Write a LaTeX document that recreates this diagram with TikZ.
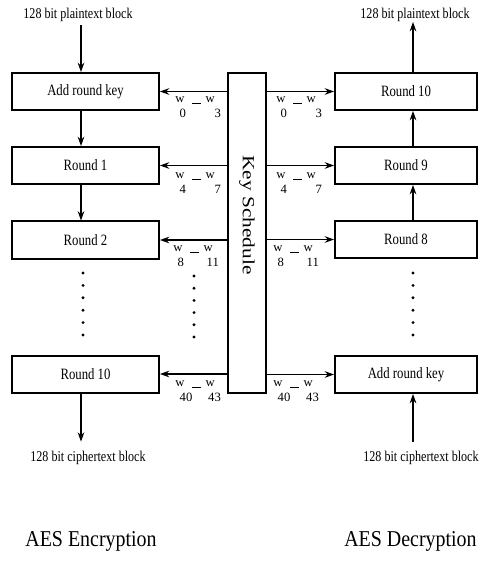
\documentclass[tikz,border=0pt]{standalone}
\usepackage{fontspec}
\setmainfont{Liberation Serif}
\usetikzlibrary{arrows.meta}
\newcommand\sqz[1]{\scalebox{0.81}[1]{#1}}
\newcommand\wl[2]{\makebox[2.5em][l]{%
 \rlap{w}\rlap{\hspace{0.35em}\raisebox{-1.2em}{#1}}%
 \hspace{1.35em}\rlap{\rule[-0.3ex]{0.7em}{0.6pt}}%
 \hspace{1.05em}\rlap{w}\rlap{\makebox[1.2em][r]{\raisebox{-1.2em}{#2}}}}}
\begin{document}
\begin{tikzpicture}[x=0.75pt,y=-0.75pt,
  rbox/.style={draw,line width=1.5pt,minimum height=27.75pt,inner sep=0pt,
    font=\fontsize{11.8}{12}\selectfont},
  lbox/.style={rbox,minimum width=110.25pt},
  dbox/.style={rbox,minimum width=106.5pt},
  small/.style={inner sep=0pt,font=\fontsize{11.2}{12}\selectfont},
  wlab/.style={inner sep=0pt,anchor=north west,font=\fontsize{9.5}{10}\selectfont},
  title/.style={inner sep=0pt,font=\fontsize{17}{18}\selectfont},
  arr/.style={line width=0.8pt,-{Stealth[length=7pt,width=5pt]}},
  dot/.style={fill,circle,inner sep=0pt,minimum size=2.4pt}]
\useasboundingbox (0,0) rectangle (480,566);
% encryption column
\coordinate (ax) at (81,0);
\coordinate (bx) at (413,0);
\node[small] (ptl) at (78,15) {\sqz{128 bit plaintext block}};
\node[lbox] (e0) at (85.5,91.5) {\sqz{Add round key}};
\node[lbox] (e1) at (85.5,165.5) {\sqz{Round 1}};
\node[lbox] (e2) at (85.5,240) {\sqz{Round 2}};
\node[lbox] (e10) at (85.5,374) {\sqz{Round 10}};
\node[small] (ctl) at (88,458) {\sqz{128 bit ciphertext block}};
% key schedule
\node[draw,line width=1.5pt,minimum width=28.5pt,minimum height=240pt,inner sep=0pt] (ks) at (247,233) {};
\node[rotate=-90,inner sep=0pt,font=\fontsize{16}{16}\selectfont] (kst) at (247,215) {\scalebox{1}[0.8]{Key Schedule}};
% decryption column
\node[small] (ptr) at (415,15) {\sqz{128 bit plaintext block}};
\node[dbox] (d10) at (406,91.5) {\sqz{Round 10}};
\node[dbox] (d9) at (406,165.5) {\sqz{Round 9}};
\node[dbox] (d8) at (406,239.5) {\sqz{Round 8}};
\node[dbox] (d0) at (406,374.5) {\sqz{Add round key}};
\node[small] (ctr) at (421,458) {\sqz{128 bit ciphertext block}};
% vertical arrows left
\draw[arr] (ptl.south -| ax) ++(0,3) -- (e0.north -| ax);
\draw[arr] (e0.south -| ax) -- (e1.north -| ax);
\draw[arr] (e1.south -| ax) -- (e2.north -| ax);
\draw[arr,shorten >=7pt] (e10.south -| ax) -- (ctl.north -| ax);
% vertical arrows right
\draw[arr] (d10.north -| bx) -- (ptr.south -| bx);
\draw[arr] (d9.north -| bx) -- (d10.south -| bx);
\draw[arr] (d8.north -| bx) -- (d9.south -| bx);
\draw[arr,shorten <=7pt] (ctr.north -| bx) -- (d0.south -| bx);
% key arrows
\foreach \a/\b in {e0/d10,e1/d9,e2/d8,e10/d0}{
  \draw[arr] (ks.west |- \a.east) -- (\a.east);
  \draw[arr] (ks.east |- \b.west) -- (\b.west);
}
% labels
\node[wlab] (l0) at (175,96) {\wl{0}{3}};
\node[wlab] (l1) at (175,172) {\wl{4}{7}};
\node[wlab] (l2) at (173,245) {\wl{8}{11}};
\node[wlab] (l3) at (175,380) {\wl{40}{43}};
\node[wlab] (r0) at (276,96) {\wl{0}{3}};
\node[wlab] (r1) at (276,172) {\wl{4}{7}};
\node[wlab] (r2) at (273,245) {\wl{8}{11}};
\node[wlab] (r3) at (273,380) {\wl{40}{43}};
% dots
\foreach \i in {0,...,5}{
  \node[dot] at (83,273+12.4*\i) {};
  \node[dot] at (194,276+12.2*\i) {};
  \node[dot] at (413,273+12.4*\i) {};
}
% titles
\node[title] (te) at (91,541) {\scalebox{0.88}[1]{AES Encryption}};
\node[title,anchor=west] (td) at (344,541) {\scalebox{0.88}[1]{AES Decryption}};
\end{tikzpicture}
\end{document}
